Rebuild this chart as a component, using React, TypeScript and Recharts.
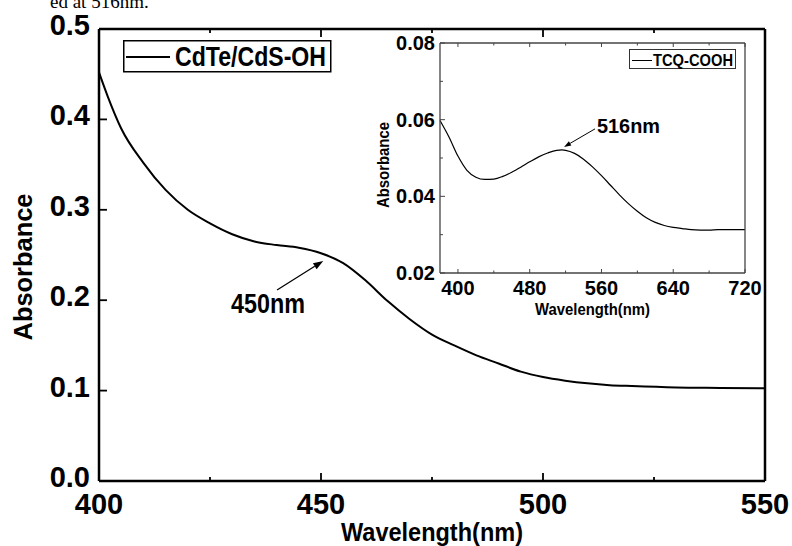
import React from 'react';
import { LineChart, Line, XAxis, YAxis, Legend, ReferenceLine } from 'recharts';

// ---------- data ----------
const mainWavelength = [400, 402, 405, 410, 415, 420, 425, 430, 435, 440, 445, 450, 455, 460, 465, 470, 475, 480, 485, 490, 495, 500, 505, 510, 515, 520, 530, 540, 550];
const mainAbsorbance = [0.452, 0.425, 0.39, 0.352, 0.322, 0.3, 0.285, 0.273, 0.265, 0.261, 0.258, 0.252, 0.241, 0.222, 0.199, 0.179, 0.162, 0.15, 0.139, 0.13, 0.121, 0.115, 0.111, 0.108, 0.106, 0.105, 0.1035, 0.103, 0.1025];

const insetWavelength = [380, 390, 400, 410, 420, 430, 440, 450, 460, 470, 480, 490, 500, 510, 516, 520, 530, 540, 550, 560, 570, 580, 590, 600, 610, 620, 630, 640, 650, 660, 670, 680, 690, 700, 710, 720];
const insetAbsorbance = [0.0598, 0.0555, 0.0505, 0.0468, 0.045, 0.0444, 0.0445, 0.0452, 0.0463, 0.0476, 0.049, 0.0503, 0.0513, 0.052, 0.0521, 0.052, 0.0512, 0.0497, 0.0477, 0.0454, 0.0429, 0.0404, 0.0381, 0.0361, 0.0344, 0.0332, 0.0324, 0.0319, 0.0316, 0.0313, 0.0312, 0.0312, 0.0313, 0.0313, 0.0313, 0.0313];

const mainXTicks = [400, 425, 450, 475, 500, 525, 550];
const mainXLabels = [400, 450, 500, 550];
const mainYTicks = [0, 0.1, 0.2, 0.3, 0.4, 0.5];

const insetXTicks = [400, 440, 480, 520, 560, 600, 640, 680, 720];
const insetXLabels = [400, 480, 560, 640, 720];
const insetYTicks = [0.02, 0.03, 0.04, 0.05, 0.06, 0.07, 0.08];
const insetYLabels = [0.02, 0.04, 0.06, 0.08];

const mainSeriesName = 'CdTe/CdS-OH';
const insetSeriesName = 'TCQ-COOH';

const mainData = mainWavelength.map((w, i) => ({ w, a: mainAbsorbance[i] }));
const insetData = insetWavelength.map((w, i) => ({ w, a: insetAbsorbance[i] }));

// ---------- helpers ----------
const FONT = '"Liberation Sans", Arial, Helvetica, sans-serif';
const near = (arr: number[], v: number) => arr.some((a) => Math.abs(a - v) < 1e-9);

type TickOpts = {
  side: 'bottom' | 'top' | 'left' | 'right';
  majors: number[];
  labels?: number[];
  majorLen: number;
  minorLen: number;
  stroke: string;
  sw: number;
  fontSize?: number;
  fmt?: (v: number) => string;
  labelOffset?: number;
  baselineShift?: number;
};

function makeTick(o: TickOpts) {
  return (props: any) => {
    const { x, y, payload } = props;
    const v = payload.value as number;
    const major = near(o.majors, v);
    const len = major ? o.majorLen : o.minorLen;
    let x2 = x;
    let y2 = y;
    if (o.side === 'bottom') y2 = y - len;
    if (o.side === 'top') y2 = y + len;
    if (o.side === 'left') x2 = x + len;
    if (o.side === 'right') x2 = x - len;
    const showLabel = !!o.labels && near(o.labels, v);
    const txt = o.fmt ? o.fmt(v) : String(v);
    return (
      <g>
        <line x1={x} y1={y} x2={x2} y2={y2} stroke={o.stroke} strokeWidth={o.sw} />
        {showLabel && o.side === 'bottom' && (
          <text x={x} y={y + (o.labelOffset || 0)} textAnchor="middle" fontFamily={FONT} fontWeight="bold" fontSize={o.fontSize} fill="#000">
            {txt}
          </text>
        )}
        {showLabel && o.side === 'left' && (
          <text x={x - (o.labelOffset || 0)} y={y + (o.baselineShift || 0)} textAnchor="end" fontFamily={FONT} fontWeight="bold" fontSize={o.fontSize} fill="#000">
            {txt}
          </text>
        )}
      </g>
    );
  };
}

function makeArrow(text: string, fontSize: number, textLen: number, tdx: number, tdy: number, sw: number, head: number) {
  return (props: any) => {
    const { x1, y1, x2, y2 } = props;
    const dx = x2 - x1;
    const dy = y2 - y1;
    const L = Math.sqrt(dx * dx + dy * dy) || 1;
    const ux = dx / L;
    const uy = dy / L;
    const bx = x2 - ux * head;
    const by = y2 - uy * head;
    const px = -uy * head * 0.35;
    const py = ux * head * 0.35;
    return (
      <g>
        <line x1={x1} y1={y1} x2={bx} y2={by} stroke="#000" strokeWidth={sw} />
        <polygon points={`${x2},${y2} ${bx + px},${by + py} ${bx - px},${by - py}`} fill="#000" />
        <text x={x1 + tdx} y={y1 + tdy} fontFamily={FONT} fontWeight="bold" fontSize={fontSize} textLength={textLen} lengthAdjust="spacingAndGlyphs" fill="#000">
          {text}
        </text>
      </g>
    );
  };
}

const MainLegend = () => (
  <svg width={260} height={33} style={{ display: 'block', overflow: 'visible' }}>
    <rect x={0.75} y={0.75} width={207} height={31} fill="#fff" stroke="#000" strokeWidth={1.5} />
    <line x1={3} y1={17} x2={47} y2={17} stroke="#000" strokeWidth={2} />
    <text x={52} y={26} fontFamily={FONT} fontWeight="bold" fontSize={28} textLength={151} lengthAdjust="spacingAndGlyphs" fill="#000">
      {mainSeriesName}
    </text>
  </svg>
);

const InsetLegend = () => (
  <svg width={130} height={21} style={{ display: 'block', overflow: 'visible' }}>
    <rect x={0.5} y={0.5} width={106} height={19} fill="#fff" stroke="#333" strokeWidth={1} />
    <line x1={3} y1={11.5} x2={23} y2={11.5} stroke="#000" strokeWidth={1} />
    <text x={24} y={17} fontFamily={FONT} fontWeight="bold" fontSize={17} textLength={80} lengthAdjust="spacingAndGlyphs" fill="#000">
      {insetSeriesName}
    </text>
  </svg>
);

const mainFmt = (v: number) => v.toFixed(1);
const insetFmt = (v: number) => v.toFixed(2);

const AXIS_MAIN = { stroke: '#000', strokeWidth: 2.5 };
const AXIS_INSET = { stroke: '#444', strokeWidth: 1.3 };

export default function App() {
  return (
    <div style={{ position: 'absolute', left: 0, top: 0, width: 792, height: 546, background: '#fff', overflow: 'hidden' }}>
      <svg width={792} height={20} style={{ position: 'absolute', left: 0, top: 0 }}>
        <text x={50} y={8} fontFamily='"Liberation Serif", "Times New Roman", serif' fontSize={19} fill="#000">
          ed at 516nm.
        </text>
      </svg>

      <div style={{ position: 'absolute', left: 0, top: 0 }}>
        <LineChart width={792} height={546} data={mainData} margin={{ top: 19, right: 17, bottom: 25, left: 39 }}>
          <XAxis
            dataKey="w"
            type="number"
            domain={[400, 550]}
            ticks={mainXTicks}
            interval={0}
            height={40}
            tickSize={0}
            tickMargin={0}
            tickLine={false}
            axisLine={AXIS_MAIN}
            tick={makeTick({ side: 'bottom', majors: mainXLabels, labels: mainXLabels, majorLen: 8, minorLen: 4, stroke: '#000', sw: 1.8, fontSize: 29, fmt: (v) => String(v), labelOffset: 33 })}
            label={{
              content: (p: any) => {
                const vb = p.viewBox;
                return (
                  <text x={vb.x + vb.width / 2} y={vb.y + 60} textAnchor="middle" fontFamily={FONT} fontWeight="bold" fontSize={25} textLength={182} lengthAdjust="spacingAndGlyphs" fill="#000">
                    Wavelength(nm)
                  </text>
                );
              },
            }}
          />
          <XAxis
            xAxisId="top"
            orientation="top"
            dataKey="w"
            type="number"
            domain={[400, 550]}
            ticks={mainXTicks}
            interval={0}
            height={10}
            tickSize={0}
            tickMargin={0}
            tickLine={false}
            axisLine={AXIS_MAIN}
            tick={makeTick({ side: 'top', majors: mainXLabels, majorLen: 8, minorLen: 4, stroke: '#000', sw: 1.8 })}
          />
          <YAxis
            type="number"
            domain={[0, 0.5]}
            ticks={mainYTicks}
            interval={0}
            width={60}
            tickSize={0}
            tickMargin={0}
            tickLine={false}
            axisLine={AXIS_MAIN}
            tick={makeTick({ side: 'left', majors: mainYTicks, labels: mainYTicks, majorLen: 8, minorLen: 4, stroke: '#000', sw: 1.8, fontSize: 29, fmt: mainFmt, labelOffset: 9, baselineShift: 6 })}
            label={{
              content: (p: any) => {
                const vb = p.viewBox;
                const cx = vb.x + vb.width - 67;
                const cy = vb.y + vb.height / 2 + 12;
                return (
                  <text x={cx} y={cy} transform={`rotate(-90, ${cx}, ${cy})`} textAnchor="middle" fontFamily={FONT} fontWeight="bold" fontSize={25} textLength={147} lengthAdjust="spacingAndGlyphs" fill="#000">
                    Absorbance
                  </text>
                );
              },
            }}
          />
          <YAxis
            yAxisId="right"
            orientation="right"
            type="number"
            domain={[0, 0.5]}
            ticks={mainYTicks}
            interval={0}
            width={10}
            tickSize={0}
            tickMargin={0}
            tickLine={false}
            axisLine={AXIS_MAIN}
            tick={makeTick({ side: 'right', majors: mainYTicks, majorLen: 8, minorLen: 4, stroke: '#000', sw: 1.8 })}
          />
          <Legend
            layout="horizontal"
            verticalAlign="middle"
            align="center"
            wrapperStyle={{ left: 123, top: 40, width: 'auto', height: 'auto' }}
            content={() => <MainLegend />}
          />
          <Line type="monotone" dataKey="a" name={mainSeriesName} stroke="#000" strokeWidth={2} dot={false} isAnimationActive={false} />
          <ReferenceLine
            segment={[{ x: 440.1, y: 0.2113 }, { x: 450.5, y: 0.2434 }]}
            shape={makeArrow('450nm', 27, 74, -46, 23, 1.3, 10)}
          />
        </LineChart>
      </div>

      <div style={{ position: 'absolute', left: 370, top: 30 }}>
        <LineChart width={410} height={290} data={insetData} margin={{ top: 8, right: 30, bottom: 17, left: 20 }}>
          <XAxis
            dataKey="w"
            type="number"
            domain={[380, 720]}
            ticks={insetXTicks}
            interval={0}
            height={30}
            tickSize={0}
            tickMargin={0}
            tickLine={false}
            axisLine={AXIS_INSET}
            tick={makeTick({ side: 'bottom', majors: insetXLabels, labels: insetXLabels, majorLen: 4, minorLen: 2.5, stroke: '#444', sw: 1, fontSize: 20, fmt: (v) => String(v), labelOffset: 22 })}
            label={{
              content: (p: any) => {
                const vb = p.viewBox;
                return (
                  <text x={vb.x + vb.width / 2} y={vb.y + 42} textAnchor="middle" fontFamily={FONT} fontWeight="bold" fontSize={16} textLength={115} lengthAdjust="spacingAndGlyphs" fill="#000">
                    Wavelength(nm)
                  </text>
                );
              },
            }}
          />
          <XAxis
            xAxisId="top"
            orientation="top"
            dataKey="w"
            type="number"
            domain={[380, 720]}
            ticks={insetXTicks}
            interval={0}
            height={5}
            tickSize={0}
            tickMargin={0}
            tickLine={false}
            axisLine={AXIS_INSET}
            tick={makeTick({ side: 'top', majors: insetXLabels, majorLen: 4, minorLen: 2.5, stroke: '#444', sw: 1 })}
          />
          <YAxis
            type="number"
            domain={[0.02, 0.08]}
            ticks={insetYTicks}
            interval={0}
            width={50}
            tickSize={0}
            tickMargin={0}
            tickLine={false}
            axisLine={AXIS_INSET}
            tick={makeTick({ side: 'left', majors: insetYLabels, labels: insetYLabels, majorLen: 5, minorLen: 3, stroke: '#444', sw: 1, fontSize: 20, fmt: insetFmt, labelOffset: 5, baselineShift: 7 })}
            label={{
              content: (p: any) => {
                const vb = p.viewBox;
                const cx = vb.x + vb.width - 51;
                const cy = vb.y + vb.height / 2 + 7;
                return (
                  <text x={cx} y={cy} transform={`rotate(-90, ${cx}, ${cy})`} textAnchor="middle" fontFamily={FONT} fontWeight="bold" fontSize={16} textLength={86} lengthAdjust="spacingAndGlyphs" fill="#000">
                    Absorbance
                  </text>
                );
              },
            }}
          />
          <YAxis
            yAxisId="right"
            orientation="right"
            type="number"
            domain={[0.02, 0.08]}
            ticks={insetYTicks}
            interval={0}
            width={5}
            tickSize={0}
            tickMargin={0}
            tickLine={false}
            axisLine={AXIS_INSET}
            tick={makeTick({ side: 'right', majors: insetYLabels, majorLen: 5, minorLen: 3, stroke: '#444', sw: 1 })}
          />
          <Legend
            layout="horizontal"
            verticalAlign="middle"
            align="center"
            wrapperStyle={{ left: 259, top: 19, width: 'auto', height: 'auto' }}
            content={() => <InsetLegend />}
          />
          <Line type="monotone" dataKey="a" name={insetSeriesName} stroke="#000" strokeWidth={1.2} dot={false} isAnimationActive={false} />
          <ReferenceLine
            segment={[{ x: 552.8, y: 0.0576 }, { x: 518.3, y: 0.0529 }]}
            shape={makeArrow('516nm', 21, 63, 2, 4, 1, 7)}
          />
        </LineChart>
      </div>
    </div>
  );
}
